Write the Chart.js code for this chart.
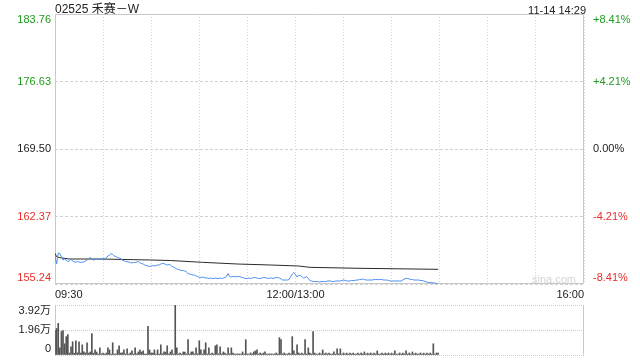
<!DOCTYPE html>
<html lang="zh-CN">
<head>
<meta charset="utf-8">
<title>02525 禾赛－W</title>
<script src="https://cdn.jsdelivr.net/npm/chart.js@4.4.1/dist/chart.umd.min.js"></script>
<style>
  html, body { margin: 0; padding: 0; background: #fff; }
  body { font-family: "Liberation Sans", Arial, "Noto Sans CJK SC", sans-serif; color: #222; }
  .stage { position: relative; width: 640px; height: 360px; overflow: hidden; }
  #priceChart { position: absolute; left: 0; top: 0; }
  #volumeChart { position: absolute; left: 0; top: 300px; }
  .name { position: absolute; left: 55px; top: 1px; font-size: 12px; line-height: 16px; }
  .stamp { position: absolute; right: 54px; top: 3px; font-size: 11px; line-height: 14px; }
  .mark { position: absolute; left: 532px; top: 272px; font-size: 11px; line-height: 14px; color: #d4d4d4; }
</style>
</head>
<body>
<div class="stage">
  <canvas id="priceChart" width="640" height="300"></canvas>
  <canvas id="volumeChart" width="640" height="60"></canvas>
  <div class="name">02525 禾赛－W</div>
  <div class="stamp">11-14 14:29</div>
  <div class="mark">sina.com</div>
</div>
<script>
// axis values
const prevClose = 169.50;
const priceTicks = [155.24, 162.37, 169.50, 176.63, 183.76];
const pctLabels = ['-8.41%', '-4.21%', '0.00%', '+4.21%', '+8.41%'];
const gridMinutes = [0, 30, 60, 90, 120, 150, 180, 210, 240, 270, 300, 330];
const timeTicks = [0, 150, 330];
const timeLabels = ['09:30', '12:00/13:00', '16:00'];
const volTicks = [0, 19600, 39200];
const volLabels = ['0', '1.96万', '3.92万'];

// one price per trading minute from 09:30 (lunch break removed), last one 14:29
const prices = [
  158.20, 157.35, 158.51, 158.46, 158.09, 157.77, 157.88, 157.77, 157.61, 157.67,
  157.88, 157.67, 157.56, 157.56, 157.61, 157.56, 157.51, 157.56, 157.56, 157.67,
  157.77, 157.93, 158.04, 157.88, 157.77, 157.83, 157.88, 157.83, 157.88, 157.93,
  157.88, 157.93, 157.99, 158.20, 158.30, 158.46, 158.36, 158.20, 158.14, 158.04,
  157.99, 157.93, 157.77, 157.72, 157.61, 157.61, 157.56, 157.51, 157.46, 157.51,
  157.51, 157.56, 157.61, 157.46, 157.40, 157.35, 157.25, 157.19, 157.14, 157.09,
  157.14, 157.19, 157.14, 157.19, 157.25, 157.25, 157.35, 157.40, 157.40, 157.30,
  157.25, 157.30, 157.25, 157.09, 157.03, 156.93, 156.82, 156.77, 156.72, 156.66,
  156.66, 156.61, 156.51, 156.35, 156.29, 156.24, 156.19, 156.19, 156.08, 156.03,
  155.92, 155.92, 155.98, 155.92, 155.87, 155.87, 155.82, 155.87, 155.82, 155.82,
  155.87, 155.82, 155.82, 155.87, 155.82, 155.87, 155.92, 156.03, 156.35, 156.03,
  155.98, 156.03, 156.03, 155.98, 156.03, 156.03, 155.98, 155.92, 155.87, 155.82,
  155.82, 155.87, 155.82, 155.87, 155.92, 155.92, 155.87, 155.82, 155.82, 155.87,
  155.92, 155.92, 155.87, 155.82, 155.87, 155.87, 155.82, 155.87, 155.92, 155.92,
  155.87, 155.77, 155.66, 155.66, 155.66, 155.66, 155.71, 156.03, 156.29, 156.45,
  156.24, 155.98, 156.14, 156.14, 156.03, 155.87, 155.92, 156.03, 155.82, 155.61,
  155.56, 155.50, 155.50, 155.50, 155.50, 155.45, 155.50, 155.50, 155.50, 155.50,
  155.56, 155.56, 155.56, 155.50, 155.50, 155.56, 155.56, 155.56, 155.56, 155.61,
  155.66, 155.61, 155.56, 155.56, 155.56, 155.61, 155.61, 155.61, 155.66, 155.66,
  155.71, 155.71, 155.77, 155.71, 155.66, 155.66, 155.66, 155.66, 155.66, 155.71,
  155.71, 155.71, 155.71, 155.71, 155.71, 155.66, 155.66, 155.66, 155.61, 155.56,
  155.56, 155.56, 155.56, 155.56, 155.56, 155.56, 155.56, 155.66, 155.77, 155.82,
  155.82, 155.77, 155.71, 155.71, 155.66, 155.66, 155.66, 155.66, 155.61, 155.61,
  155.56, 155.50, 155.45, 155.40, 155.40, 155.40, 155.34, 155.34, 155.29, 155.24
];

// average price line, read at a few minutes
const avgMinutes = [0, 1, 3, 9, 28, 49, 59, 72, 92, 114, 134, 152, 159, 189, 239];
const avgPrices = [158.48, 158.12, 158.02, 157.88, 157.88, 157.81, 157.78, 157.72, 157.53, 157.35, 157.25, 157.14, 157.00, 156.90, 156.79];

// shares traded per minute
const volumes = [
  19200, 20800, 24800, 5600, 18400, 19200, 8800, 14400, 16000, 1500,
  6400, 10400, 1400, 11200, 1700, 10400, 1500, 8000, 2400, 1600,
  9600, 1500, 2400, 16800, 1400, 4000, 2300, 700, 5600, 900,
  1600, 700, 1500, 5600, 4000, 800, 9600, 700, 900, 4000,
  7200, 1500, 1700, 4000, 800, 4800, 700, 1600, 3200, 800,
  5600, 900, 2400, 4000, 2300, 3200, 700, 800, 22400, 4000,
  1600, 1500, 4000, 800, 4000, 700, 8000, 900, 2400, 2300,
  7200, 800, 2400, 4000, 700, 39200, 5600, 800, 1600, 700,
  2400, 2300, 800, 12000, 700, 2400, 2500, 800, 5600, 900,
  11200, 4000, 700, 4000, 9600, 800, 5600, 700, 1600, 800,
  7200, 8000, 900, 6400, 800, 2400, 1600, 700, 5600, 800,
  5600, 1500, 800, 700, 900, 800, 700, 2400, 800, 12000,
  800, 700, 1600, 800, 2400, 3200, 4000, 700, 1600, 800,
  1500, 2400, 800, 700, 900, 800, 700, 800, 1600, 700,
  13600, 12000, 800, 1600, 700, 800, 1500, 800, 14400, 3200,
  700, 8000, 1600, 800, 1500, 700, 12000, 800, 5600, 1600,
  800, 18400, 1500, 700, 800, 1600, 700, 4000, 800, 1500,
  800, 1600, 700, 800, 2400, 700, 4800, 800, 4800, 700,
  1600, 800, 1500, 700, 1600, 800, 1500, 700, 800, 1600,
  700, 1600, 800, 2400, 700, 1500, 800, 1600, 700, 1500,
  800, 3200, 700, 800, 1600, 700, 1500, 800, 1600, 700,
  1500, 800, 3200, 700, 800, 1600, 700, 1500, 800, 3200,
  700, 1600, 800, 2400, 700, 1500, 800, 700, 1600, 800,
  1500, 700, 1600, 800, 1500, 700, 8800, 800, 1600, 1500
];

const UP = '#1e9b1e';
const DOWN = '#e8302b';
const FLAT = '#222';
const FONT = '11px "Liberation Sans", Arial, "Noto Sans CJK SC", sans-serif';
const FAMILY = '"Liberation Sans", Arial, "Noto Sans CJK SC", sans-serif';

function tickColor(v) {
  if (Math.abs(v - prevClose) < 0.005) return FLAT;
  return v > prevClose ? UP : DOWN;
}

// box round the plot area plus the y labels (edge labels are pulled inside like sina does)
const sidePlugin = {
  id: 'side',
  beforeDatasetsDraw(chart, args, opts) {
    const { ctx, chartArea: a } = chart;
    const l = Math.round(a.left) + 0.5, r = Math.round(a.right) - 0.5;
    const t = Math.round(a.top) + 0.5, b = Math.round(a.bottom) - 0.5;
    ctx.save();
    ctx.strokeStyle = '#c8c8c8';
    ctx.lineWidth = 1;
    ctx.beginPath();
    if (opts.sides.includes('left')) { ctx.moveTo(l, t); ctx.lineTo(l, b); }
    if (opts.sides.includes('right')) { ctx.moveTo(r, t); ctx.lineTo(r, b); }
    if (opts.sides.includes('top')) { ctx.moveTo(l, t); ctx.lineTo(r, t); }
    if (opts.sides.includes('bottom')) { ctx.moveTo(l, b); ctx.lineTo(r, b); }
    ctx.stroke();
    ctx.restore();
  },
  afterDraw(chart, args, opts) {
    const { ctx, chartArea: a } = chart;
    const ys = chart.scales.y;
    ctx.save();
    ctx.font = FONT;
    ctx.textBaseline = 'middle';
    const place = v => Math.min(Math.max(ys.getPixelForValue(v), a.top + 6), a.bottom - 6);
    (opts.left || []).forEach(it => {
      ctx.fillStyle = it.color;
      ctx.textAlign = 'right';
      ctx.fillText(it.text, a.left - 4, place(it.value));
    });
    (opts.right || []).forEach(it => {
      ctx.fillStyle = it.color;
      ctx.textAlign = 'left';
      ctx.fillText(it.text, a.right + 9, place(it.value));
    });
    ctx.restore();
  }
};

// Price chart
const priceData = prices.map((p, i) => ({ x: i, y: p }));
const avgData = avgMinutes.map((m, i) => ({ x: m, y: avgPrices[i] }));

new Chart(document.getElementById('priceChart'), {
  type: 'line',
  data: {
    datasets: [{
      data: priceData,
      borderColor: '#4b8df0',
      borderWidth: 1,
      pointRadius: 0,
      tension: 0
    }, {
      data: avgData,
      borderColor: '#2a2a2a',
      borderWidth: 1,
      pointRadius: 0,
      tension: 0
    }]
  },
  options: {
    responsive: false,
    animation: false,
    events: [],
    layout: { padding: { top: 14, right: 56, left: 0, bottom: 0 } },
    plugins: {
      legend: { display: false },
      tooltip: { enabled: false },
      side: {
        sides: ['left', 'right', 'top', 'bottom'],
        left: priceTicks.map(v => ({ value: v, text: v.toFixed(2), color: tickColor(v) })),
        right: priceTicks.map((v, i) => ({ value: v, text: pctLabels[i], color: tickColor(v) }))
      }
    },
    scales: {
      x: {
        type: 'linear',
        min: 0,
        max: 330,
        afterBuildTicks: s => { s.ticks = gridMinutes.map(v => ({ value: v })); },
        afterFit: s => { s.height = 16; },
        ticks: {
          autoSkip: false,
          maxRotation: 0,
          align: 'inner',
          padding: 4,
          color: '#222',
          font: { size: 11, family: FAMILY },
          callback: v => {
            const k = timeTicks.indexOf(v);
            return k >= 0 ? timeLabels[k] : '';
          }
        },
        grid: { color: '#d4d4d4', drawTicks: false },
        border: { display: false, dash: [1, 2] }
      },
      y: {
        min: priceTicks[0],
        max: priceTicks[priceTicks.length - 1],
        afterBuildTicks: s => { s.ticks = priceTicks.map(v => ({ value: v })); },
        afterFit: s => { s.width = 55; },
        ticks: { display: false },
        grid: { color: '#d0d0d0', drawTicks: false },
        border: { display: false, dash: [3, 2] }
      }
    }
  },
  plugins: [sidePlugin]
});

// Volume chart
const volData = volumes.map((v, i) => ({ x: i, y: v }));

new Chart(document.getElementById('volumeChart'), {
  type: 'bar',
  data: {
    datasets: [{
      data: volData,
      backgroundColor: '#555',
      barThickness: 1
    }]
  },
  options: {
    responsive: false,
    animation: false,
    events: [],
    layout: { padding: { top: 5, right: 56, left: 0, bottom: 5 } },
    plugins: {
      legend: { display: false },
      tooltip: { enabled: false },
      side: {
        sides: ['left', 'right'],
        left: volTicks.map((v, i) => ({ value: v, text: volLabels[i], color: '#222' }))
      }
    },
    scales: {
      x: {
        type: 'linear',
        min: 0,
        max: 330,
        offset: false,
        display: false,
        grid: { offset: false }
      },
      y: {
        min: 0,
        max: volTicks[volTicks.length - 1],
        afterBuildTicks: s => { s.ticks = volTicks.map(v => ({ value: v })); },
        afterFit: s => { s.width = 55; },
        ticks: { display: false },
        grid: { color: '#cccccc', drawTicks: false },
        border: { display: false, dash: [1, 1] }
      }
    }
  },
  plugins: [sidePlugin]
});
</script>
</body>
</html>
